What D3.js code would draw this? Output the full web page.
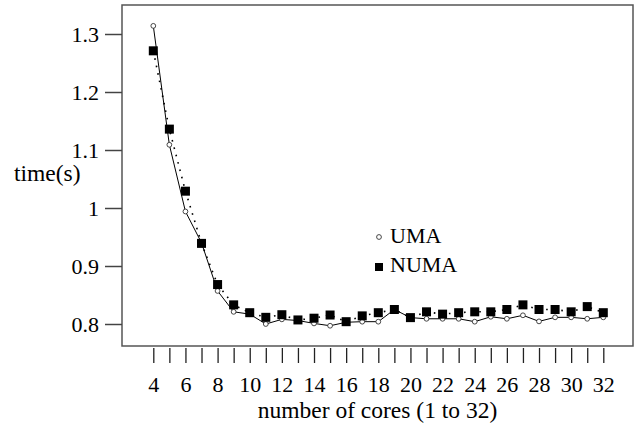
<!DOCTYPE html>
<html>
<head>
<meta charset="utf-8">
<script src="https://cdn.jsdelivr.net/npm/d3@7"></script>
<style>
  body { margin: 0; background: #fff; }
  svg text { font-family: "Liberation Serif", "Times New Roman", Times, "DejaVu Serif", serif !important; fill: #000; }
</style>
</head>
<body>
<div id="chart"></div>
<script>
// number of cores
var cores = [4,5,6,7,8,9,10,11,12,13,14,15,16,17,18,19,20,21,22,23,24,25,26,27,28,29,30,31,32];
// time(s) per configuration
var uma  = [1.314,1.109,0.994,0.940,0.857,0.821,0.817,0.800,0.808,0.806,0.801,0.797,0.803,0.804,0.804,0.825,0.811,0.809,0.809,0.809,0.804,0.8125,0.809,0.815,0.8045,0.8115,0.8115,0.809,0.8115];
var numa = [1.271,1.136,1.029,0.939,0.868,0.833,0.8195,0.8115,0.816,0.807,0.810,0.8155,0.804,0.814,0.8195,0.825,0.811,0.821,0.817,0.8195,0.821,0.821,0.825,0.833,0.825,0.825,0.821,0.830,0.8195];
var yTicks = [0.8,0.9,1.0,1.1,1.2,1.3];

var width = 636, height = 427;
var frame = {left:122, right:633, top:5, bottom:346};
var serif = '"Liberation Serif", "Times New Roman", Times, "DejaVu Serif", serif';

var svg = d3.select('#chart')
    .append('svg')
    .attr('width', width)
    .attr('height', height);

var x = d3.scaleLinear().domain([4,32]).range([153.3,603.3]);
var y = d3.scaleLinear().domain([0.8,1.3]).range([324,34]);

// frame
svg.append('rect')
    .attr('x', frame.left)
    .attr('y', frame.top)
    .attr('width', frame.right - frame.left)
    .attr('height', frame.bottom - frame.top)
    .attr('fill', 'none')
    .attr('stroke', '#555')
    .attr('stroke-width', 1.5);

// y axis
var yAxis = svg.append('g')
    .attr('transform', 'translate(' + frame.left + ',0)')
    .call(d3.axisLeft(y)
        .tickValues(yTicks)
        .tickSize(17)
        .tickPadding(6)
        .tickFormat(function(d){ return d3.format('.1f')(d).replace(/\.0$/,''); }));
yAxis.attr('font-family', null);
yAxis.select('.domain').remove();
yAxis.selectAll('line').attr('stroke','#444').attr('stroke-width',1.5);
yAxis.selectAll('text').attr('font-size', 22).style('font-family', serif);

// x axis
var xAxis = svg.append('g')
    .attr('transform', 'translate(0,348)')
    .call(d3.axisBottom(x)
        .tickValues(cores)
        .tickSize(15)
        .tickPadding(13)
        .tickFormat(function(d){ return d % 2 === 0 ? d : ''; }));
xAxis.attr('font-family', null);
xAxis.select('.domain').remove();
xAxis.selectAll('line').attr('stroke','#222').attr('stroke-width',1.3);
xAxis.selectAll('text').attr('font-size', 22).style('font-family', serif);

// axis titles
svg.append('text')
    .attr('x', 14)
    .attr('y', 181)
    .attr('font-size', 23.5)
    .style('font-family', serif)
    .text('time(s)');

svg.append('text')
    .attr('x', (frame.left + frame.right) / 2)
    .attr('y', 418)
    .attr('text-anchor', 'middle')
    .attr('font-size', 23.5)
    .style('font-family', serif)
    .text('number of cores (1 to 32)');

var line = d3.line()
    .x(function(d){ return x(d[0]); })
    .y(function(d){ return y(d[1]); });

var umaPts = cores.map(function(c,i){ return [c, uma[i]]; });
var numaPts = cores.map(function(c,i){ return [c, numa[i]]; });

// NUMA dotted line
svg.append('path')
    .datum(numaPts)
    .attr('d', line)
    .attr('fill','none')
    .attr('stroke','#000')
    .attr('stroke-width',1.6)
    .attr('stroke-dasharray','1.6,6');

// UMA solid line
svg.append('path')
    .datum(umaPts)
    .attr('d', line)
    .attr('fill','none')
    .attr('stroke','#000')
    .attr('stroke-width',1);

// UMA circles
svg.append('g').selectAll('circle')
    .data(umaPts)
    .enter().append('circle')
    .attr('cx', function(d){ return x(d[0]); })
    .attr('cy', function(d){ return y(d[1]); })
    .attr('r', 2.4)
    .attr('fill','#fff')
    .attr('stroke','#333')
    .attr('stroke-width',0.9);

// NUMA squares
var sq = 9;
svg.append('g').selectAll('rect')
    .data(numaPts)
    .enter().append('rect')
    .attr('x', function(d){ return x(d[0]) - sq/2; })
    .attr('y', function(d){ return y(d[1]) - sq/2; })
    .attr('width', sq)
    .attr('height', sq)
    .attr('fill','#000');

// legend
var legend = svg.append('g');
legend.append('circle')
    .attr('cx', 379).attr('cy', 237).attr('r', 2.4)
    .attr('fill','#fff').attr('stroke','#333').attr('stroke-width',0.9);
legend.append('text')
    .attr('x', 390).attr('y', 243).attr('font-size', 22)
    .style('font-family', serif).text('UMA');
legend.append('rect')
    .attr('x', 375).attr('y', 263).attr('width', 8).attr('height', 8).attr('fill','#000');
legend.append('text')
    .attr('x', 390).attr('y', 272).attr('font-size', 22)
    .style('font-family', serif).text('NUMA');
</script>
</body>
</html>
